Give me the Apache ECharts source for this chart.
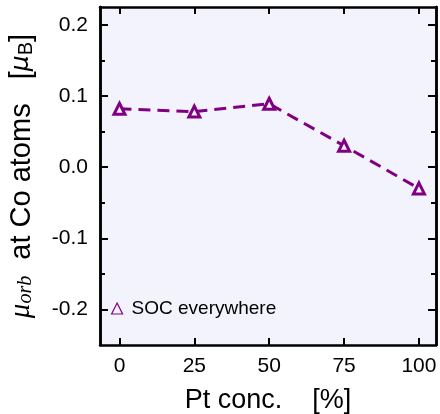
<!DOCTYPE html>
<html>
<head>
<meta charset="utf-8">
<script src="https://cdn.jsdelivr.net/npm/echarts@6/dist/echarts.min.js"></script>
<style>
  html, body { margin: 0; padding: 0; background: #fff; }
  #chart { width: 440px; height: 414px; }
</style>
</head>
<body>
<div id="chart"></div>
<script>
// data
const ptConc = [0, 25, 50, 75, 100];
const muOrb = [0.082, 0.078, 0.089, 0.030, -0.030];
const xTicks = [0, 25, 50, 75, 100];
const yTicks = [-0.2, -0.1, 0.0, 0.1, 0.2];
const yMinorTicks = [-0.15, -0.05, 0.05, 0.15];
const seriesName = 'SOC everywhere';

const purple = '#800080';
const bg = '#f3f3fd';
const font = 'Liberation Sans, Arial, sans-serif';

const chart = echarts.init(document.getElementById('chart'));

function xAx(pos, showLabel) {
  return {
    type: 'value',
    position: pos,
    min: -6.5,
    max: 105.7,
    name: showLabel ? 'Pt conc.    [%]' : '',
    nameLocation: 'middle',
    nameGap: 42,
    nameTextStyle: { fontFamily: font, fontSize: 27, color: '#000' },
    axisLine: { show: true, onZero: false, lineStyle: { color: '#000', width: 2.5 } },
    axisTick: { show: true, inside: true, length: 7, customValues: xTicks, lineStyle: { color: '#000', width: 2 } },
    axisLabel: { show: showLabel, customValues: xTicks, fontFamily: font, fontSize: 21, color: '#000', margin: 11 },
    splitLine: { show: false }
  };
}

function yAx(pos, ticks, len, showLabel, title) {
  return {
    type: 'value',
    position: pos,
    min: -0.25,
    max: 0.225,
    name: title,
    nameLocation: 'middle',
    nameRotate: 90,
    nameGap: 64,
    nameTextStyle: {
      color: '#000',
      rich: {
        mu: { fontFamily: 'Liberation Serif, Times New Roman, serif', fontStyle: 'italic', fontSize: 29, color: '#000' },
        sub: { fontFamily: 'Liberation Serif, Times New Roman, serif', fontStyle: 'italic', fontSize: 20, color: '#000', verticalAlign: 'bottom' },
        t: { fontFamily: font, fontSize: 29, color: '#000' },
        mu2: { fontFamily: 'DejaVu Sans, sans-serif', fontStyle: 'italic', fontSize: 25, color: '#000' },
        sub2: { fontFamily: font, fontSize: 20, color: '#000', verticalAlign: 'bottom' }
      }
    },
    axisLine: { show: true, onZero: false, lineStyle: { color: '#000', width: 2.5 } },
    axisTick: { show: true, inside: true, length: len, customValues: ticks, lineStyle: { color: '#000', width: 2 } },
    axisLabel: {
      show: showLabel,
      customValues: ticks,
      fontFamily: font,
      fontSize: 21,
      color: '#000',
      margin: 12,
      formatter: v => v.toFixed(1)
    },
    splitLine: { show: false }
  };
}

const yTitle = '{mu|μ}{sub|orb}{t|  at Co atoms   [}{mu2|μ}{sub2|B}{t|]}';

const option = {
  animation: false,
  backgroundColor: '#fff',
  grid: {
    left: 100, right: 4, top: 7, bottom: 69,
    outerBoundsMode: 'none',
    show: true, backgroundColor: bg, borderWidth: 0
  },
  legend: {
    left: 111,
    top: 299,
    padding: 0,
    itemWidth: 11,
    itemHeight: 11,
    data: [{
      name: seriesName,
      icon: 'triangle',
      itemStyle: { color: 'transparent', borderColor: purple, borderWidth: 1.2 }
    }],
    textStyle: { fontFamily: font, fontSize: 19, color: '#000', padding: [0, 0, 0, 4] }
  },
  xAxis: [xAx('bottom', true), xAx('top', false)],
  yAxis: [
    yAx('left', yTicks, 8, true, yTitle),
    yAx('left', yMinorTicks, 5, false, ''),
    yAx('right', yTicks, 8, false, ''),
    yAx('right', yMinorTicks, 5, false, '')
  ],
  series: [{
    name: seriesName,
    type: 'line',
    xAxisIndex: 0,
    yAxisIndex: 0,
    data: ptConc.map((x, i) => [x, muOrb[i]]),
    symbol: 'triangle',
    symbolSize: 11,
    itemStyle: { color: bg, borderColor: purple, borderWidth: 3 },
    lineStyle: { color: purple, width: 3, type: [12, 7] }
  }]
};

chart.setOption(option);
</script>
</body>
</html>
